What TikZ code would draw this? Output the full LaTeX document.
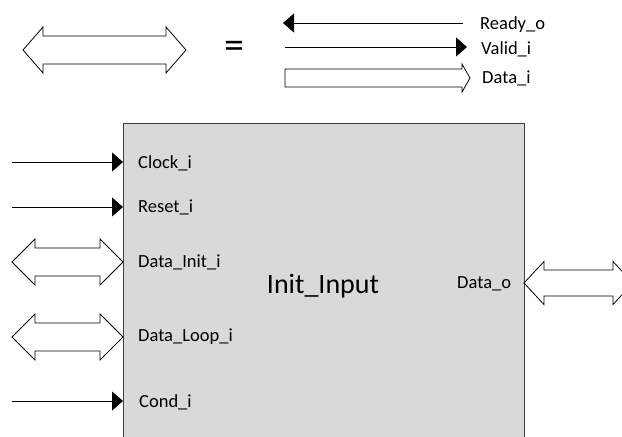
\documentclass[tikz,border=0pt]{standalone}
\usepackage{fontspec}
\setmainfont{Carlito}
\usetikzlibrary{arrows.meta}
\definecolor{blockgray}{HTML}{D9D9D9}
\definecolor{edgegray}{HTML}{404040}
\tikzset{
  sig/.style={line width=0.8pt, -{Triangle[length=11pt,width=19pt]}},
  bus/.style={draw, line width=0.8pt, fill=white},
  lbl/.style={anchor=base west, inner sep=0pt, font=\fontsize{18.5}{20}\selectfont},
  pics/dblarr/.style args={#1/#2/#3/#4}{code={
    \path[bus] (0,0) -- (#4,#2) -- (#4,#3) -- ({#1-#4},#3) -- ({#1-#4},#2) -- (#1,0)
      -- ({#1-#4},-#2) -- ({#1-#4},-#3) -- (#4,-#3) -- (#4,-#2) -- cycle;}}
}
\begin{document}
\begin{tikzpicture}[x=1pt,y=1pt]
\useasboundingbox (0,0) rectangle (622,-437);
\clip (0,0) rectangle (622,-437);

% legend: a bus stands for ready, valid and data
\pic at (23,-50) {dblarr=163/23/14/20};
\node[inner sep=0pt, font=\fontsize{40}{40}\selectfont] (eq) at (234,-50) {=};

\coordinate (rdyfrom) at (463,-23);
\coordinate (rdyto) at (283,-23);
\draw[sig] (rdyfrom) -- (rdyto);
\node[lbl] (rdy) at (480,-29) {Ready\_o};

\coordinate (valfrom) at (285,-47);
\coordinate (valto) at (467,-47);
\draw[sig] (valfrom) -- (valto);
\node[lbl] (val) at (481,-54) {Valid\_i};

\path[bus] (285,-69) -- (462,-69) -- (462,-64) -- (470,-78) -- (462,-92) -- (462,-87) -- (285,-87) -- cycle;
\node[lbl] (dat) at (482,-83) {Data\_i};

% the block
\node (blk) [draw=edgegray, fill=blockgray, line width=0.8pt, anchor=north west,
  minimum width=401pt, minimum height=340pt, inner sep=0pt] at (123,-123) {};
\node[anchor=base, inner sep=0pt, font=\fontsize{28}{30}\selectfont] (title) at (323,-293) {Init\_Input};

% inputs
\coordinate (clk) at (12,-162);
\draw[sig] (clk) -- (clk -| blk.west);
\node[lbl] (clklbl) at (138,-168) {Clock\_i};

\coordinate (rst) at (12,-207);
\draw[sig] (rst) -- (rst -| blk.west);
\node[lbl] (rstlbl) at (138,-212) {Reset\_i};

\pic at (12,-262) {dblarr=111/23/14/23};
\node[lbl] (initlbl) at (138,-267) {Data\_Init\_i};

\pic at (12,-337) {dblarr=111/23/14/23};
\node[lbl] (looplbl) at (138,-341) {Data\_Loop\_i};

\coordinate (cnd) at (12,-401);
\draw[sig] (cnd) -- (cnd -| blk.west);
\node[lbl] (cndlbl) at (139,-407) {Cond\_i};

% output
\pic at (524,-283) {dblarr=109/21.5/13/20};
\node[lbl] (outlbl) at (457,-288) {Data\_o};
\end{tikzpicture}
\end{document}
